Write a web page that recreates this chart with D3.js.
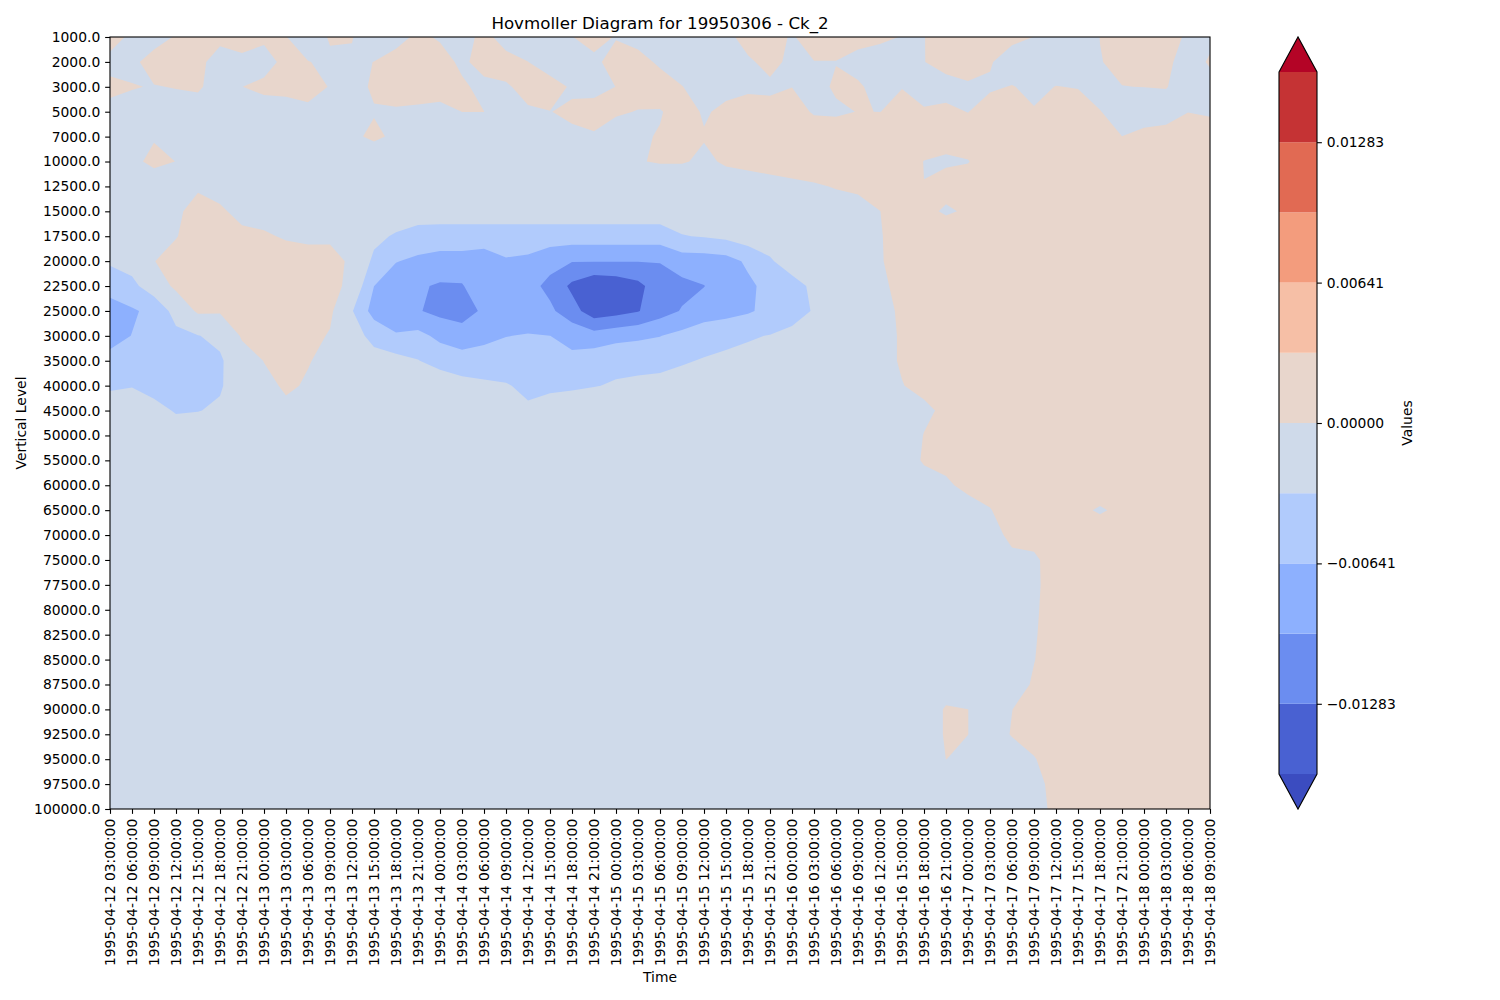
<!DOCTYPE html>
<html><head><meta charset="utf-8">
<script src="https://cdn.jsdelivr.net/npm/d3@7"></script>
<style>
body{margin:0;background:#fff;}
text{font-family:"DejaVu Sans",sans-serif;}
</style></head><body>
<svg id="chart" width="1500" height="1000"></svg>
<script>
// ---------- data ----------
const timeLabels = [
"1995-04-12 03:00:00","1995-04-12 06:00:00","1995-04-12 09:00:00","1995-04-12 12:00:00","1995-04-12 15:00:00","1995-04-12 18:00:00","1995-04-12 21:00:00",
"1995-04-13 00:00:00","1995-04-13 03:00:00","1995-04-13 06:00:00","1995-04-13 09:00:00","1995-04-13 12:00:00","1995-04-13 15:00:00","1995-04-13 18:00:00","1995-04-13 21:00:00",
"1995-04-14 00:00:00","1995-04-14 03:00:00","1995-04-14 06:00:00","1995-04-14 09:00:00","1995-04-14 12:00:00","1995-04-14 15:00:00","1995-04-14 18:00:00","1995-04-14 21:00:00",
"1995-04-15 00:00:00","1995-04-15 03:00:00","1995-04-15 06:00:00","1995-04-15 09:00:00","1995-04-15 12:00:00","1995-04-15 15:00:00","1995-04-15 18:00:00","1995-04-15 21:00:00",
"1995-04-16 00:00:00","1995-04-16 03:00:00","1995-04-16 06:00:00","1995-04-16 09:00:00","1995-04-16 12:00:00","1995-04-16 15:00:00","1995-04-16 18:00:00","1995-04-16 21:00:00",
"1995-04-17 00:00:00","1995-04-17 03:00:00","1995-04-17 06:00:00","1995-04-17 09:00:00","1995-04-17 12:00:00","1995-04-17 15:00:00","1995-04-17 18:00:00","1995-04-17 21:00:00",
"1995-04-18 00:00:00","1995-04-18 03:00:00","1995-04-18 06:00:00","1995-04-18 09:00:00"];

const levelLabels = ["1000.0","2000.0","3000.0","5000.0","7000.0","10000.0","12500.0","15000.0","17500.0","20000.0","22500.0","25000.0","30000.0","35000.0","40000.0","45000.0","50000.0","55000.0","60000.0","65000.0","70000.0","75000.0","77500.0","80000.0","82500.0","85000.0","87500.0","90000.0","92500.0","95000.0","97500.0","100000.0"];

// Ck_2 values (x 1e-3), one row per vertical level, one column per time
const ck2E3 = [
[0.8,-0.4,-1,0.2,1,0.6,0.9,0.4,0.05,-1, 0.16,0.1,-1.5,-0.89,0.5,-0.28,-1,0.7,-1,-1, -0.8,-0.05,0.8,-0.13,-0.6,-0.8,-1,-1,-0.5,0.7, 0.8,-0.2,1,1,0.8,0.5,-0.1,-0.05,1,1, 1,0.6,-0.03,-1,-1,0.02,1,1,0.8,-0.3,-0.5],
[-0.55,-0.55,1,1.2,0.6,-1,-0.5,-0.85,0.6,0.05, -0.3,-0.3,0.02,1,1.2,1,-0.5,1,0.8,0.02, -1,-1.2,-0.5,0.9,0.6,-0.28,-1,-1.2,-1.2,-0.25, 0.5,-0.4,-0.05,-0.05,-0.8,-1.3,-1,-0.05,0.8,1, 0.2,-1.2,-1.2,-1.2,-1,-0.05,0.3,1,0.5,-1,0.25],
[0.4,0.1,-0.1,0.1,0.3,-1,-0.02,0.5,0.6,0.4, -0.05,-0.5,0.2,1,1,1,0.4,-0.7,-0.2,0.55, 0.8,-0.24,-0.6,0.02,1,0.8,0.05,-0.8,-0.4,-0.4, -0.33,-0.02,-0.6,0.25,0.3,-0.8,-0.05,-0.8,-0.8,-0.3, -0.3,0.1,-0.5,0.05,-0.1,-1,-0.02,0.02,0.1,-1,-0.8],
[-0.5,-0.7,-1,-1,-1,-1.2,-1.2,-1,-0.9,-0.25, -1,-1.2,-0.1,-0.25,-0.4,-0.67,0.01,0.01,-1,-0.2, -0.03,0.25,0.75,0.3,-0.1,-0.1,0.6,-0.15,0.3,1, 0.6,0.8,-0.2,-0.3,0.05,-0.02,0.5,0.2,0.45,-0.05, 1,1,0.15,1,1,0.08,-1,-1,-1,-0.03,-0.3],
[-1.5,-1.5,-0.13,-1.5,-1.5,-1.5,-1.5,-1.5,-1.5,-1.5, -1.5,-0.3,0.3,-0.3,-1.5,-1.5,-1,-1,-1.5,-1.5, -1.5,-0.27,-0.2,-1.2,-0.21,0.1,1,0.1,1.2,1.2, 1.2,1.2,1.2,1.2,1.2,1.2,1.2,1.2,1.2,1.2, 1.2,1.2,1.2,1.2,1.2,1.2,0.02,0.55,0.9,1,1.2],
[-1.5,-0.4,0.4,-0.02,-1.5,-1.5,-1.5,-1.5,-1.5,-1.5, -1.5,-1.5,-1.2,-1.5,-1.5,-1.5,-1.5,-1.5,-1.5,-1.5, -1.5,-1.5,-1.5,-1.5,-0.1,0.15,0.15,-0.3,0.2,0.45, 0.87,0.85,1.05,1.2,1.2,1.2,1.2,-0.05,-0.5,-0.1, 1.2,1.2,1.2,1.2,1.2,1.2,1.2,1.2,1.2,1.2,1.2],
[-1.5,-1.5,-1.1,-1.2,-0.1,-0.6,-1.5,-1.5,-1.5,-1.5, -1.5,-1.5,-1.5,-1.5,-1.5,-1.5,-1.5,-1.5,-1.5,-1.5, -1.5,-1.5,-1.5,-1.5,-1.5,-1.5,-1.5,-1.5,-0.8,-0.8, -0.8,-0.4,-0.2,0.1,0.4,1,1.2,0.02,1.5,1.2, 1.2,1.2,1.2,1.2,1.2,1.2,1.2,1.2,1.2,1.2,1.2],
[-1.5,-1.5,-1.5,-0.15,0.3,0.25,-0.5,-0.8,-1.5,-1.5, -1.5,-1.5,-1.5,-1.5,-1.5,-1.5,-1.5,-1.5,-1.5,-1.5, -1.5,-1.5,-1.5,-1.5,-1.5,-1.5,-1.5,-1.5,-1.5,-1.5, -1.5,-1.5,-1.5,-0.8,-0.85,-0.02,1,1.2,-0.6,0.6, 1.2,1.2,1.2,1.2,1.2,1.2,1.2,1.2,1.2,1.2,1.2],
[-1.5,-1.5,-1.5,-0.1,1,1,0.4,0.25,-0.2,-0.5, -0.4,-1.5,-2.5,-3.54,-4.6,-4.8,-4.8,-4.8,-4.8,-4.8, -4.8,-4.8,-4.8,-4.8,-4.8,-4.8,-3.36,-3,-2.5,-1.5, -1.5,-1.5,-1.5,-1.5,-1,-0.15,1,1.2,3,1.2, 1.2,1.2,1.2,1.2,1.2,1.2,1.2,1.2,1.2,1.2,1.2],
[-2.8,-2,-0.05,0.8,1.2,1.2,1.3,1.3,1,1, 0.8,-0.4,-3.8,-6.3,-7,-7.5,-7.5,-8,-6.7,-7, -8.5,-9.5,-9.5,-9.5,-9.5,-9.5,-8,-8,-7.6,-5.9, -3.6,-1.5,-1.5,-1.5,-1.3,-0.2,1,1.2,1.2,1.2, 1.2,1.2,1.2,1.2,1.2,1.2,1.2,1.2,1.2,1.2,1.2],
[-5,-4,-1.5,0.5,1,1.2,1.3,1.3,1.3,1.2, 0.6,-0.5,-6.4,-8,-9.2,-10,-9.9,-7,-8,-8.5, -10.5,-13.5,-15.5,-15,-13.7,-11,-10.5,-9.7,-8,-7, -5.5,-4.5,-2.5,-1.5,-1.2,-0.5,0.7,1.2,1.2,1.2, 1.2,1.2,1.2,1.2,1.2,1.2,1.2,1.2,1.2,1.2,1.2],
[-8,-6.8,-5.6,-2,0.4,0.3,1,1.2,1.3,1.2, 0.5,-3,-7.7,-8.5,-9.4,-10.5,-10.2,-9.4,-8.5,-8.5, -9,-11.5,-14.7,-14,-13,-11,-9.4,-8,-7.5,-6.8, -5.5,-4.3,-3,-1.5,-1.2,-0.5,0.24,1.2,1.2,1.2, 1.2,1.2,1.2,1.2,1.2,1.2,1.2,1.2,1.2,1.2,1.2],
[-7.5,-6.35,-5,-4,-3.3,-2.5,0.3,0.8,1.2,0.8, -0.2,-2,-4.1,-6.1,-5.5,-7.2,-9,-7,-6.5,-6.2, -6.4,-7.5,-8.3,-7.5,-7,-6.5,-5.5,-4.5,-4,-3.5, -3.1,-2.5,-2,-1.5,-1.2,-0.5,0.15,1.2,1.2,1.2, 1.2,1.2,1.2,1.2,1.2,1.2,1.2,1.2,1.2,1.2,1.2],
[-5.5,-5,-4.8,-4.5,-4.5,-3.6,-1.2,0.05,0.8,0.1, -0.5,-1.5,-2.1,-2.1,-3.1,-4.4,-4.4,-5.4,-4.8,-5, -5,-5.6,-4.5,-3.8,-4.1,-3.9,-3.5,-3,-2.6,-2.3, -2,-1.8,-1.6,-1.5,-1.2,-0.5,0.15,1.2,1.2,1.2, 1.2,1.2,1.2,1.2,1.2,1.2,1.2,1.2,1.2,1.2,1.2],
[-3.4,-3.3,-4,-4.2,-4,-3.5,-1.5,-0.6,0.3,-0.2, -1.2,-1.5,-1.5,-1.5,-1.5,-1.1,-2.5,-2.5,-3,-3.8, -3.6,-3.5,-3.3,-3,-2.6,-2.5,-2,-1.5,-1.5,-1.5, -1.5,-1.5,-1.5,-1.5,-1.5,-1.5,-0.05,0.38,1.2,1.2, 1.2,1.2,1.2,1.2,1.2,1.2,1.2,1.2,1.2,1.2,1.2],
[-2.5,-2,-2.5,-3.4,-3.3,-2.8,-1.5,-1.5,-0.45,-1.2, -1.5,-1.5,-1.5,-1.5,-1.5,-1.5,-1.5,-1.5,-1.5,-2.8, -2.3,-2,-1.5,-1.5,-1.5,-1.5,-1.5,-1.5,-1.5,-1.5, -1.5,-1.5,-1.5,-1.5,-1.5,-1.5,-1.2,-0.3,0.3,1.2, 1.2,1.2,1.2,1.2,1.2,1.2,1.2,1.2,1.2,1.2,1.2],
[-1.5,-1.5,-1.5,-2,-1.5,-1.5,-1.5,-1.5,-1.5,-1.5, -1.5,-1.5,-1.5,-1.5,-1.5,-1.5,-1.5,-1.5,-1.5,-1.5, -1.5,-1.5,-1.5,-1.5,-1.5,-1.5,-1.5,-1.5,-1.5,-1.5, -1.5,-1.5,-1.5,-1.5,-1.5,-1.5,-1,0.05,1.2,1.2, 1.2,1.2,1.2,1.2,1.2,1.2,1.2,1.2,1.2,1.2,1.2],
[-1.5,-1.5,-1.5,-1.5,-1.5,-1.5,-1.5,-1.5,-1.5,-1.5, -1.5,-1.5,-1.5,-1.5,-1.5,-1.5,-1.5,-1.5,-1.5,-1.5, -1.5,-1.5,-1.5,-1.5,-1.5,-1.5,-1.5,-1.5,-1.5,-1.5, -1.5,-1.5,-1.5,-1.5,-1.5,-1.5,-1,0.2,0.5,1.2, 1.2,1.2,1.2,1.2,1.2,1.2,1.2,1.2,1.2,1.2,1.2],
[-1.5,-1.5,-1.5,-1.5,-1.5,-1.5,-1.5,-1.5,-1.5,-1.5, -1.5,-1.5,-1.5,-1.5,-1.5,-1.5,-1.5,-1.5,-1.5,-1.5, -1.5,-1.5,-1.5,-1.5,-1.5,-1.5,-1.5,-1.5,-1.5,-1.5, -1.5,-1.5,-1.5,-1.5,-1.5,-1.5,-1.5,-0.8,-0.3,0.5, 0.8,1.2,1.2,1.2,1.2,2.5,1.2,1.2,1.2,1.2,1.2],
[-1.5,-1.5,-1.5,-1.5,-1.5,-1.5,-1.5,-1.5,-1.5,-1.5, -1.5,-1.5,-1.5,-1.5,-1.5,-1.5,-1.5,-1.5,-1.5,-1.5, -1.5,-1.5,-1.5,-1.5,-1.5,-1.5,-1.5,-1.5,-1.5,-1.5, -1.5,-1.5,-1.5,-1.5,-1.5,-1.5,-1.5,-1.5,-1.5,-0.8, -0.1,1,1.2,1.2,1,-0.5,1,1.2,1.2,1.2,1.2],
[-1.5,-1.5,-1.5,-1.5,-1.5,-1.5,-1.5,-1.5,-1.5,-1.5, -1.5,-1.5,-1.5,-1.5,-1.5,-1.5,-1.5,-1.5,-1.5,-1.5, -1.5,-1.5,-1.5,-1.5,-1.5,-1.5,-1.5,-1.5,-1.5,-1.5, -1.5,-1.5,-1.5,-1.5,-1.5,-1.5,-1.5,-1.5,-1.5,-1.5, -0.8,0.5,0.6,1.2,1.2,2.5,1.2,1.2,1.2,1.2,1.2],
[-1.5,-1.5,-1.5,-1.5,-1.5,-1.5,-1.5,-1.5,-1.5,-1.5, -1.5,-1.5,-1.5,-1.5,-1.5,-1.5,-1.5,-1.5,-1.5,-1.5, -1.5,-1.5,-1.5,-1.5,-1.5,-1.5,-1.5,-1.5,-1.5,-1.5, -1.5,-1.5,-1.5,-1.5,-1.5,-1.5,-1.5,-1.5,-1.5,-1.5, -1.5,-0.5,-0.3,0.8,1.2,1.2,1.2,1.2,1.2,1.2,1.2],
[-1.5,-1.5,-1.5,-1.5,-1.5,-1.5,-1.5,-1.5,-1.5,-1.5, -1.5,-1.5,-1.5,-1.5,-1.5,-1.5,-1.5,-1.5,-1.5,-1.5, -1.5,-1.5,-1.5,-1.5,-1.5,-1.5,-1.5,-1.5,-1.5,-1.5, -1.5,-1.5,-1.5,-1.5,-1.5,-1.5,-1.5,-1.5,-1.5,-1.5, -1.5,-1.5,-0.3,0.7,1.2,1.2,1.2,1.2,1.2,1.2,1.2],
[-1.5,-1.5,-1.5,-1.5,-1.5,-1.5,-1.5,-1.5,-1.5,-1.5, -1.5,-1.5,-1.5,-1.5,-1.5,-1.5,-1.5,-1.5,-1.5,-1.5, -1.5,-1.5,-1.5,-1.5,-1.5,-1.5,-1.5,-1.5,-1.5,-1.5, -1.5,-1.5,-1.5,-1.5,-1.5,-1.5,-1.5,-1.5,-1.5,-1.5, -1.5,-1.5,-0.25,0.8,1.2,1.2,1.2,1.2,1.2,1.2,1.2],
[-1.5,-1.5,-1.5,-1.5,-1.5,-1.5,-1.5,-1.5,-1.5,-1.5, -1.5,-1.5,-1.5,-1.5,-1.5,-1.5,-1.5,-1.5,-1.5,-1.5, -1.5,-1.5,-1.5,-1.5,-1.5,-1.5,-1.5,-1.5,-1.5,-1.5, -1.5,-1.5,-1.5,-1.5,-1.5,-1.5,-1.5,-1.5,-1.5,-1.5, -1.5,-1.5,-0.15,0.8,1.2,1.2,1.2,1.2,1.2,1.2,1.2],
[-1.5,-1.5,-1.5,-1.5,-1.5,-1.5,-1.5,-1.5,-1.5,-1.5, -1.5,-1.5,-1.5,-1.5,-1.5,-1.5,-1.5,-1.5,-1.5,-1.5, -1.5,-1.5,-1.5,-1.5,-1.5,-1.5,-1.5,-1.5,-1.5,-1.5, -1.5,-1.5,-1.5,-1.5,-1.5,-1.5,-1.5,-1.5,-1.5,-1.5, -1.5,-1.5,-0.05,0.8,1.2,1.2,1.2,1.2,1.2,1.2,1.2],
[-1.5,-1.5,-1.5,-1.5,-1.5,-1.5,-1.5,-1.5,-1.5,-1.5, -1.5,-1.5,-1.5,-1.5,-1.5,-1.5,-1.5,-1.5,-1.5,-1.5, -1.5,-1.5,-1.5,-1.5,-1.5,-1.5,-1.5,-1.5,-1.5,-1.5, -1.5,-1.5,-1.5,-1.5,-1.5,-1.5,-1.5,-1.5,-0.26,-1, -1,-0.8,0.2,1,1.2,1.2,1.2,1.2,1.2,1.2,1.2],
[-1.5,-1.5,-1.5,-1.5,-1.5,-1.5,-1.5,-1.5,-1.5,-1.5, -1.5,-1.5,-1.5,-1.5,-1.5,-1.5,-1.5,-1.5,-1.5,-1.5, -1.5,-1.5,-1.5,-1.5,-1.5,-1.5,-1.5,-1.5,-1.5,-1.5, -1.5,-1.5,-1.5,-1.5,-1.5,-1.5,-1.5,-0.3,0.05,0.01, -0.8,-0.02,0.8,1.2,1.2,1.2,1.2,1.2,1.2,1.2,1.2],
[-1.5,-1.5,-1.5,-1.5,-1.5,-1.5,-1.5,-1.5,-1.5,-1.5, -1.5,-1.5,-1.5,-1.5,-1.5,-1.5,-1.5,-1.5,-1.5,-1.5, -1.5,-1.5,-1.5,-1.5,-1.5,-1.5,-1.5,-1.5,-1.5,-1.5, -1.5,-1.5,-1.5,-1.5,-1.5,-1.5,-1.5,-1.2,0.2,0.01, -0.8,0.1,0.6,1.2,1.2,1.2,1.2,1.2,1.2,1.2,1.2],
[-1.5,-1.5,-1.5,-1.5,-1.5,-1.5,-1.5,-1.5,-1.5,-1.5, -1.5,-1.5,-1.5,-1.5,-1.5,-1.5,-1.5,-1.5,-1.5,-1.5, -1.5,-1.5,-1.5,-1.5,-1.5,-1.5,-1.5,-1.5,-1.5,-1.5, -1.5,-1.5,-1.5,-1.5,-1.5,-1.5,-1.5,-1.5,0.01,-0.3, -1,-0.8,-0.1,0.8,1.2,1.2,1.2,1.2,1.2,1.2,1.2],
[-1.5,-1.5,-1.5,-1.5,-1.5,-1.5,-1.5,-1.5,-1.5,-1.5, -1.5,-1.5,-1.5,-1.5,-1.5,-1.5,-1.5,-1.5,-1.5,-1.5, -1.5,-1.5,-1.5,-1.5,-1.5,-1.5,-1.5,-1.5,-1.5,-1.5, -1.5,-1.5,-1.5,-1.5,-1.5,-1.5,-1.5,-1.5,-1.5,-1.5, -1.5,-1.5,-0.5,0.5,1.2,1.2,1.2,1.2,1.2,1.2,1.2],
[-1.5,-1.5,-1.5,-1.5,-1.5,-1.5,-1.5,-1.5,-1.5,-1.5, -1.5,-1.5,-1.5,-1.5,-1.5,-1.5,-1.5,-1.5,-1.5,-1.5, -1.5,-1.5,-1.5,-1.5,-1.5,-1.5,-1.5,-1.5,-1.5,-1.5, -1.5,-1.5,-1.5,-1.5,-1.5,-1.5,-1.5,-1.5,-1.5,-1.5, -1.5,-1.5,-0.8,0.5,1.2,1.2,1.2,1.2,1.2,1.2,1.2]
];

const contourLevels = [-0.016038,-0.012830,-0.009623,-0.006415,-0.003208,0,0.003208,0.006415,0.009623,0.012830,0.016038];
const bandColors = ["#4961d2","#6b8df0","#8db0fe","#b1cbfc","#cfdaea","#e8d6cc","#f6bfa6","#f39c7d","#e16a53","#c53334"];
const underColor = "#3b4cc0", overColor = "#b40426";
const cbTickValues = [-0.01283,-0.006415,0,0.006415,0.01283];
const cbTickLabels = ["\u22120.01283","\u22120.00641","0.00000","0.00641","0.01283"];

// ---------- layout ----------
const W = 1500, H = 1000;
const P = {x0:110, x1:1210, y0:37, y1:809};
const FS = 13.89, TICK = 4.86, PAD = 4.86, LW = 1.1;
const svg = d3.select("#chart");
svg.append("rect").attr("width",W).attr("height",H).attr("fill","#fff");

const nT = timeLabels.length, nL = levelLabels.length;
ck2E3.forEach((r,i)=>{ if(r.length!==nT) console.error("row",i,"len",r.length); });

const xIdx = d3.scaleLinear().domain([0,nT-1]).range([P.x0,P.x1]);
const yIdx = d3.scaleLinear().domain([0,nL-1]).range([P.y0,P.y1]);
const xPt = d3.scalePoint().domain(timeLabels).range([P.x0,P.x1]);
const yPt = d3.scalePoint().domain(levelLabels).range([P.y0,P.y1]);

const flat = [];
ck2E3.forEach(row => row.forEach(v => flat.push(v*1e-3)));
const layers = d3.contours().size([nT,nL]).thresholds(contourLevels)(flat);
const proj = d3.geoTransform({point(px,py){ this.stream.point(xIdx(px-0.5), yIdx(py-0.5)); }});
const path = d3.geoPath(proj);

svg.append("defs").append("clipPath").attr("id","plotClip")
  .append("rect").attr("x",P.x0).attr("y",P.y0).attr("width",P.x1-P.x0).attr("height",P.y1-P.y0);
const gp = svg.append("g").attr("clip-path","url(#plotClip)");
gp.append("rect").attr("x",P.x0).attr("y",P.y0).attr("width",P.x1-P.x0).attr("height",P.y1-P.y0).attr("fill",underColor);
layers.forEach((c,k)=>{
  gp.append("path").attr("d",path(c)).attr("fill", k<bandColors.length ? bandColors[k] : overColor)
    .attr("fill-rule","evenodd").attr("stroke","none");
});
svg.append("rect").attr("x",P.x0).attr("y",P.y0).attr("width",P.x1-P.x0).attr("height",P.y1-P.y0)
  .attr("fill","none").attr("stroke","#000").attr("stroke-width",LW);

// x axis
const gx = svg.append("g").attr("transform",`translate(0,${P.y1})`)
  .call(d3.axisBottom(xPt).tickSize(TICK).tickPadding(PAD));
gx.select(".domain").remove();
gx.attr("font-size",FS).attr("font-family","DejaVu Sans").attr("color","#000");
gx.selectAll(".tick line").attr("stroke-width",LW);
gx.selectAll(".tick text").attr("transform","rotate(-90)").attr("x",-(TICK+PAD)).attr("y",0)
  .attr("dy","0.35em").attr("text-anchor","end");

// y axis
const gy = svg.append("g").attr("transform",`translate(${P.x0},0)`)
  .call(d3.axisLeft(yPt).tickSize(TICK).tickPadding(PAD));
gy.select(".domain").remove();
gy.attr("font-size",FS).attr("font-family","DejaVu Sans").attr("color","#000");
gy.selectAll(".tick line").attr("stroke-width",LW);

// labels
svg.append("text").attr("x",(P.x0+P.x1)/2).attr("y",29).attr("text-anchor","middle")
  .attr("font-size",16.67).text("Hovmoller Diagram for 19950306 - Ck_2");
svg.append("text").attr("x",(P.x0+P.x1)/2).attr("y",982).attr("text-anchor","middle")
  .attr("font-size",FS).text("Time");
svg.append("text").attr("transform",`translate(26,${(P.y0+P.y1)/2}) rotate(-90)`).attr("text-anchor","middle")
  .attr("font-size",FS).text("Vertical Level");

// colorbar
const CB = {x0:1279, x1:1317, y0:72, y1:774, tip:35};
const cbY = d3.scaleLinear().domain([contourLevels[0],contourLevels[contourLevels.length-1]]).range([CB.y1,CB.y0]);
const gc = svg.append("g");
bandColors.forEach((col,k)=>{
  const ya = cbY(contourLevels[k+1]), yb = cbY(contourLevels[k]);
  gc.append("rect").attr("x",CB.x0).attr("y",ya).attr("width",CB.x1-CB.x0).attr("height",yb-ya).attr("fill",col);
});
const xm = (CB.x0+CB.x1)/2;
gc.append("path").attr("d",`M${CB.x0},${CB.y0}L${xm},${CB.y0-CB.tip}L${CB.x1},${CB.y0}Z`).attr("fill",overColor);
gc.append("path").attr("d",`M${CB.x0},${CB.y1}L${xm},${CB.y1+CB.tip}L${CB.x1},${CB.y1}Z`).attr("fill",underColor);
gc.append("path").attr("d",`M${CB.x0},${CB.y0}L${xm},${CB.y0-CB.tip}L${CB.x1},${CB.y0}L${CB.x1},${CB.y1}L${xm},${CB.y1+CB.tip}L${CB.x0},${CB.y1}Z`)
  .attr("fill","none").attr("stroke","#000").attr("stroke-width",LW);
const gca = svg.append("g").attr("transform",`translate(${CB.x1},0)`)
  .call(d3.axisRight(cbY).tickValues(cbTickValues).tickFormat((d,i)=>cbTickLabels[i]).tickSize(TICK).tickPadding(PAD));
gca.select(".domain").remove();
gca.attr("font-size",FS).attr("font-family","DejaVu Sans").attr("color","#000");
gca.selectAll(".tick line").attr("stroke-width",LW);
svg.append("text").attr("transform",`translate(1412,${(P.y0+P.y1)/2}) rotate(-90)`).attr("text-anchor","middle")
  .attr("font-size",FS).text("Values");
</script>
</body></html>
